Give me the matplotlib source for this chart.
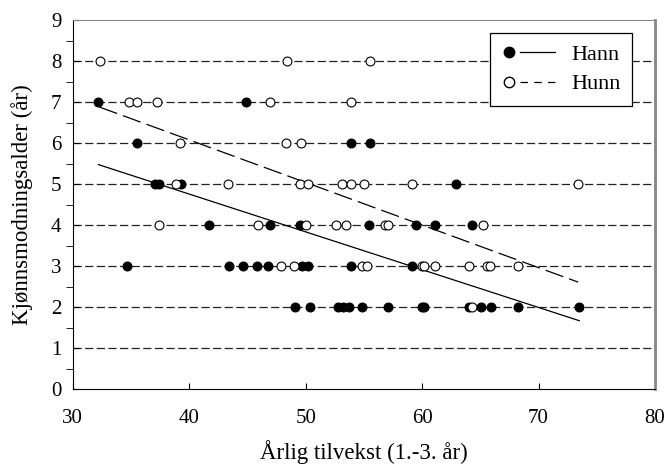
import numpy as np
import matplotlib.pyplot as plt
from matplotlib.lines import Line2D
from matplotlib.legend_handler import HandlerBase

plt.rcParams['font.family'] = ['Liberation Serif', 'DejaVu Serif']

# Hann (hanner): vekst og alder ved kjønnsmodning
hann_x = [32.2, 44.9,
          35.5, 53.9, 55.5,
          37.1, 37.4, 39.3, 62.9,
          41.7, 46.9, 49.5, 55.4, 59.5, 61.1, 64.3,
          34.7, 43.4, 44.6, 45.8, 46.8, 49.7, 50.2, 53.9, 59.1,
          49.1, 50.4, 52.8, 53.2, 53.7, 54.8, 57.1, 60.0, 60.2, 64.0, 65.1,
          65.9, 68.2, 73.5]
hann_y = [7, 7,
          6, 6, 6,
          5, 5, 5, 5,
          4, 4, 4, 4, 4, 4, 4,
          3, 3, 3, 3, 3, 3, 3, 3, 3,
          2, 2, 2, 2, 2, 2, 2, 2, 2, 2, 2,
          2, 2, 2]

# Hunn (hunner)
hunn_x = [32.3, 48.4, 55.5,
          34.8, 35.5, 37.2, 46.9, 53.9,
          39.2, 48.3, 49.6,
          38.9, 43.3, 49.5, 50.2, 53.1, 53.9, 55.0, 59.1, 73.4,
          37.4, 45.9, 50.0, 52.6, 53.5, 56.8, 57.1, 65.2,
          47.9, 49.0, 54.8, 55.3, 60.0, 60.2, 61.1, 64.0, 65.6, 65.8, 68.2,
          64.3]
hunn_y = [8, 8, 8,
          7, 7, 7, 7, 7,
          6, 6, 6,
          5, 5, 5, 5, 5, 5, 5, 5, 5,
          4, 4, 4, 4, 4, 4, 4, 4,
          3, 3, 3, 3, 3, 3, 3, 3, 3, 3, 3,
          2]

# regresjonslinjer (stigning, konstantledd)
hann_fit = (-0.0922, 8.45)
hunn_fit = (-0.1039, 10.24)


class MarkerThenLine(HandlerBase):
    """Legend handle with the marker first and the line to the right of it."""

    def create_artists(self, legend, orig_handle, xdescent, ydescent,
                       width, height, fontsize, trans):
        mk_src, ln_src = orig_handle
        y = (height - ydescent) / 2
        x0 = -xdescent
        mk = Line2D([x0 + 0.15 * width], [y])
        mk.update_from(mk_src)
        ln = Line2D([x0 + 0.36 * width, x0 + width], [y, y])
        ln.update_from(ln_src)
        mk.set_transform(trans)
        ln.set_transform(trans)
        return [mk, ln]


fig = plt.figure(figsize=(6.66, 4.66), dpi=100)
ax = fig.add_axes([0.1092, 0.1646, 0.8743, 0.7918])

for lvl in range(1, 9):
    ax.axhline(lvl, color='#222222', lw=0.9, ls=(0, (6.6, 2.7)), zorder=1)

xa = np.array([min(hann_x), max(hann_x)])
ax.plot(xa, hann_fit[0] * xa + hann_fit[1], color='black', lw=0.9, zorder=2)
xb = np.array([min(hunn_x), max(hunn_x)])
ax.plot(xb, hunn_fit[0] * xb + hunn_fit[1], color='black', lw=0.9,
        ls=(0, (15, 5)), zorder=2)

ax.plot(hann_x, hann_y, 'o', color='black', ms=6.4, mec='black', mew=0.8, zorder=3)
ax.plot(hunn_x, hunn_y, 'o', color='white', ms=6.4, mec='black', mew=0.8, zorder=4)

ax.set_xlim(30, 80)
ax.set_ylim(0, 9)
ax.set_xticks(range(30, 81, 10))
ax.set_yticks(range(0, 10))
ax.set_yticks(np.arange(0.5, 9, 1), minor=True)
ax.tick_params(axis='x', direction='in', length=4, labelsize=15, pad=14)
ax.tick_params(axis='y', which='major', direction='in', length=4, labelsize=15, pad=8)
ax.tick_params(axis='y', which='minor', direction='out', length=5)

ax.set_xlabel('Årlig tilvekst (1.-3. år)', fontsize=16.5, labelpad=9)
ax.set_ylabel('Kjønnsmodningsalder (år)', fontsize=16.5, labelpad=13)

ax.spines['top'].set_color('#888888')
ax.spines['right'].set_color('#888888')
ax.spines['right'].set_linewidth(2)

h1 = (Line2D([], [], marker='o', ls='none', mfc='black', mec='black', ms=7.5),
      Line2D([], [], color='black', lw=0.9))
h2 = (Line2D([], [], marker='o', ls='none', mfc='white', mec='black', ms=7.5),
      Line2D([], [], color='black', lw=0.9, ls=(0, (6, 5))))
leg = ax.legend([h1, h2], ['Hann', 'Hunn'],
                handler_map={tuple: MarkerThenLine()},
                loc='upper right', bbox_to_anchor=(0.961, 0.966),
                borderaxespad=0, fontsize=16, handlelength=2.45,
                handletextpad=0.75, fancybox=False, framealpha=1,
                edgecolor='black', borderpad=0.5, labelspacing=0.42)
leg.get_frame().set_linewidth(0.9)
leg.set_zorder(5)

fig.savefig('out.png', dpi=100)
